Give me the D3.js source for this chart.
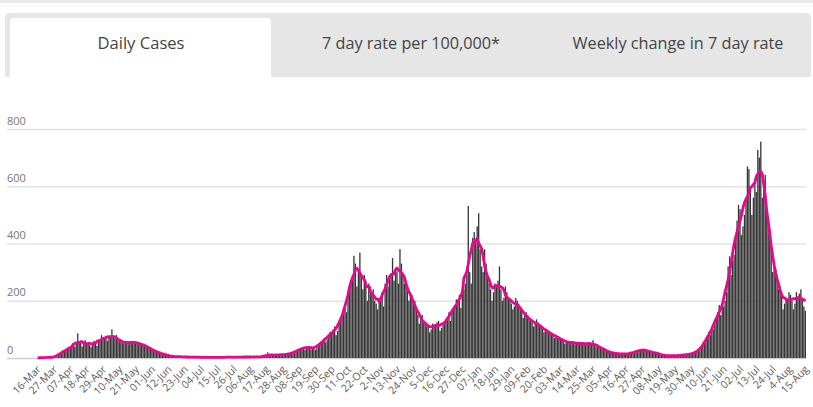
<!DOCTYPE html>
<html>
<head>
<meta charset="utf-8">
<script src="https://cdn.jsdelivr.net/npm/d3@7/dist/d3.min.js"></script>
<style>
  html, body { margin: 0; padding: 0; background: #fff; }
  svg { display: block; font-family: "Open Sans", "DejaVu Sans", sans-serif; }
</style>
</head>
<body>
<svg id="chart" width="813" height="407"></svg>
<script>
// ---------------- DATA ----------------
const tabLabels = ["Daily Cases", "7 day rate per 100,000*", "Weekly change in 7 day rate"];
const startDate = "2020-03-16";
// daily cases, 16-Mar-2020 .. 15-Aug-2021 (one row per week, Monday first)
const dailyCases = [
  0,1,0,1,2,1,2,
  2,3,2,4,3,2,3,
  12,18,20,25,22,28,30,
  30,38,42,48,40,50,86,
  50,58,40,55,62,48,52,
  45,38,55,60,50,42,58,
  62,80,70,66,78,60,72,
  70,100,75,68,80,62,58,
  55,62,50,58,52,48,56,
  58,52,60,55,50,48,52,
  50,48,42,44,38,35,32,
  30,28,25,22,20,18,16,
  15,14,12,10,8,6,6,
  6,5,7,5,4,3,4,
  4,5,3,4,3,2,3,
  3,4,2,3,2,2,3,
  2,3,2,1,3,2,2,
  3,2,3,2,1,2,3,
  2,3,4,2,3,2,3,
  3,2,3,4,3,2,4,
  4,3,5,4,3,2,4,
  5,4,3,5,4,3,5,
  8,20,10,9,10,8,11,
  10,12,9,14,11,10,13,
  12,15,14,18,20,16,22,
  28,32,30,35,38,28,40,
  38,42,30,36,40,28,34,
  45,50,58,62,70,55,65,
  78,92,85,100,110,80,95,
  120,140,150,175,190,160,220,
  240,270,290,357,330,250,310,
  368,290,240,290,270,200,260,
  250,230,240,200,190,170,210,
  200,230,180,260,290,250,280,
  290,349,270,310,300,260,380,
  330,290,260,270,250,200,230,
  220,190,200,180,150,120,140,
  150,130,120,110,115,90,100,
  120,110,115,125,130,95,105,
  115,120,135,140,160,130,165,
  170,180,205,190,220,175,230,
  240,260,290,531,300,260,420,
  440,400,460,506,380,320,300,
  380,330,280,260,240,200,230,
  260,250,270,320,240,200,210,
  250,230,210,200,190,170,180,
  210,200,190,170,165,140,150,
  160,150,140,130,125,110,120,
  135,125,115,110,105,90,95,
  100,95,90,85,80,70,72,
  78,75,70,65,60,50,55,
  60,58,55,52,56,48,50,
  55,52,50,55,50,45,48,
  52,50,48,62,45,40,42,
  42,40,35,30,28,22,25,
  22,20,18,17,15,14,16,
  16,15,14,13,15,12,14,
  16,18,20,22,24,20,26,
  30,28,32,26,28,24,22,
  20,18,22,19,16,14,16,
  12,10,9,8,7,6,8,
  9,8,10,7,8,6,9,
  10,12,11,13,14,10,12,
  15,18,20,22,30,26,35,
  42,55,60,75,90,80,110,
  100,120,140,160,185,150,190,
  180,200,230,320,355,290,340,
  360,420,480,535,520,430,460,
  500,560,669,660,600,500,560,
  620,580,727,700,756,560,600,
  640,520,470,430,380,300,330,
  310,280,240,250,220,170,190,
  210,200,230,220,200,170,190,
  230,210,225,240,210,180,165
];
const xTickLabels = ["16-Mar","27-Mar","07-Apr","18-Apr","29-Apr","10-May","21-May","01-Jun","12-Jun","23-Jun",
  "04-Jul","15-Jul","26-Jul","06-Aug","17-Aug","28-Aug","08-Sep","19-Sep","30-Sep","11-Oct","22-Oct","2-Nov",
  "13-Nov","24-Nov","5-Dec","16-Dec","27-Dec","07-Jan","18-Jan","29-Jan","09-Feb","20-Feb","03-Mar","14-Mar",
  "25-Mar","05-Apr","16-Apr","27-Apr","08-May","19-May","30-May","10-Jun","21-Jun","02-Jul","13-Jul","24-Jul",
  "4-Aug","15-Aug"];
const tickEvery = 11;
const yTicks = [0, 200, 400, 600, 800];

// ---------------- DRAW ----------------
const svg = d3.select("#chart");

// top thin strip
svg.append("rect").attr("x", 0).attr("y", 0).attr("width", 813).attr("height", 3).attr("fill", "#e9e9e9");

// tab bar
const tabTop = 13, tabBottom = 77, tabLeft = 5, tabRight = 811, r = 5;
svg.append("path")
  .attr("d", `M${tabLeft},${tabBottom} V${tabTop + r} Q${tabLeft},${tabTop} ${tabLeft + r},${tabTop} H${tabRight - r} Q${tabRight},${tabTop} ${tabRight},${tabTop + r} V${tabBottom} Z`)
  .attr("fill", "#e6e6e6");
const aL = 10, aR = 271, aT = 18;
svg.append("path")
  .attr("d", `M${aL},${tabBottom} V${aT + 4} Q${aL},${aT} ${aL + 4},${aT} H${aR - 4} Q${aR},${aT} ${aR},${aT + 4} V${tabBottom} Z`)
  .attr("fill", "#ffffff");
const tabCenters = [141, 411, 678];
svg.selectAll("text.tab").data(tabLabels).join("text")
  .attr("class", "tab")
  .attr("x", (d, i) => tabCenters[i])
  .attr("y", 49)
  .attr("text-anchor", "middle")
  .attr("font-size", 15.5)
  .attr("fill", "#444")
  .attr("textLength", (d, i) => [87, 178, 211][i])
  .attr("lengthAdjust", "spacingAndGlyphs")
  .text(d => d);

// scales
const idx = d3.range(dailyCases.length);
const x = d3.scaleBand().domain(idx).range([37, 806]).paddingInner(0.12);
const y = d3.scaleLinear().domain([0, 800]).range([358, 129]);

// gridlines + y labels via axis
const yAxis = d3.axisRight(y).tickValues(yTicks).tickSize(799).tickFormat(d3.format("d"));
const gy = svg.append("g").attr("transform", "translate(7,0)").call(yAxis);
gy.select(".domain").remove();
gy.selectAll(".tick line").attr("stroke", (d) => d === 0 ? "#d0d0d0" : "#e3e3e3").attr("stroke-width", 1.6);
gy.selectAll(".tick text")
  .attr("x", 0).attr("dy", -5).attr("text-anchor", "start")
  .attr("font-size", 11).attr("fill", "#777")
  .attr("font-family", "'Open Sans', sans-serif");

// bars
svg.append("g").selectAll("rect").data(dailyCases).join("rect")
  .attr("x", (d, i) => x(i))
  .attr("width", x.bandwidth())
  .attr("y", d => y(d))
  .attr("height", d => y(0) - y(d))
  .attr("fill", "#363636");

// 7-day average (centred)
const avg = dailyCases.map((d, i) => {
  const w = dailyCases.slice(Math.max(0, i - 3), Math.min(dailyCases.length, i + 4));
  return d3.mean(w);
});
const line = d3.line()
  .x((d, i) => x(i) + x.bandwidth() / 2)
  .y(d => y(d));
svg.append("path").datum(avg)
  .attr("d", line)
  .attr("fill", "none")
  .attr("stroke", "#e8068a")
  .attr("stroke-width", 2.8)
  .attr("stroke-linejoin", "round");

// x axis labels
const tickIdx = xTickLabels.map((d, i) => i * tickEvery);
const xAxis = d3.axisBottom(x).tickValues(tickIdx).tickSize(0)
  .tickFormat(d => xTickLabels[d / tickEvery]);
const gx = svg.append("g").attr("transform", "translate(0,362)").call(xAxis);
gx.select(".domain").remove();
gx.selectAll(".tick text")
  .attr("text-anchor", "end")
  .attr("font-size", 10.5)
  .attr("fill", "#5c5c5c")
  .attr("font-family", "'Open Sans', sans-serif")
  .attr("dy", 0).attr("y", 0)
  .attr("transform", "translate(4,8) rotate(-45)");
</script>
</body>
</html>
